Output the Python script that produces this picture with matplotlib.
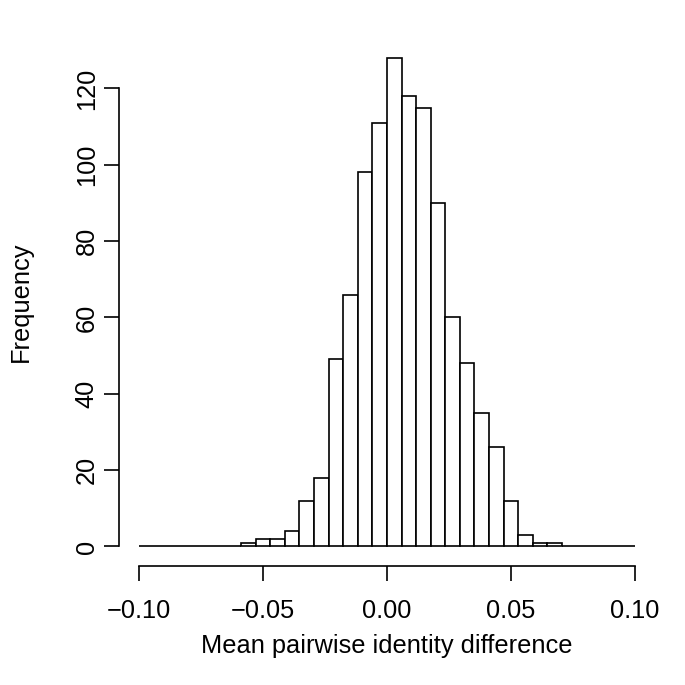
import numpy as np
import matplotlib
matplotlib.use("Agg")
import matplotlib.pyplot as plt

plt.rcParams['font.family'] = ['Liberation Sans', 'DejaVu Sans']

# histogram: 34 equal bins from -0.10 to 0.10
x_min, x_max, n_bins = -0.10, 0.10, 34
counts = [0, 0, 0, 0, 0, 0, 0, 1, 2, 2, 4, 12, 18, 49, 66, 98, 111,
          128, 118, 115, 90, 60, 48, 35, 26, 12, 3, 1, 1, 0, 0, 0, 0, 0]
x_ticks = [-0.10, -0.05, 0.00, 0.05, 0.10]
x_tick_labels = ['\u22120.10', '\u22120.05', '0.00', '0.05', '0.10']
y_ticks = [0, 20, 40, 60, 80, 100, 120]

edges = np.linspace(x_min, x_max, n_bins + 1)
width = edges[1] - edges[0]

fig = plt.figure(figsize=(6.85, 6.85), dpi=100)
ax = fig.add_axes([0.1737, 0.1737, 0.956 - 0.1737, 0.944 - 0.1737])

ax.bar(edges[:-1], counts, width=width, align='edge',
       facecolor='white', edgecolor='black', linewidth=1.2)

# R-style 4% padding on each side
xr = x_max - x_min
ax.set_xlim(x_min - 0.04 * xr, x_max + 0.04 * xr)
ymax = max(counts)
ax.set_ylim(-0.04 * ymax, ymax * 1.04)

for s in ['top', 'right']:
    ax.spines[s].set_visible(False)
ax.spines['left'].set_bounds(0, 120)
ax.spines['bottom'].set_bounds(-0.10, 0.10)
for s in ['left', 'bottom']:
    ax.spines[s].set_linewidth(1.2)

fs = 18.3
ax.set_xticks(x_ticks)
ax.set_xticklabels(x_tick_labels)
ax.set_yticks(y_ticks)
ax.set_yticklabels([str(v) for v in y_ticks], rotation=90, va='center')
ax.tick_params(axis='both', length=10.5, width=1.2, labelsize=fs)
ax.tick_params(axis='x', pad=13)
ax.tick_params(axis='y', pad=4)

ax.set_xlabel('Mean pairwise identity difference', fontsize=fs, labelpad=8)
ax.set_ylabel('Frequency', fontsize=fs, labelpad=30)

fig.savefig('out.png', dpi=100)
